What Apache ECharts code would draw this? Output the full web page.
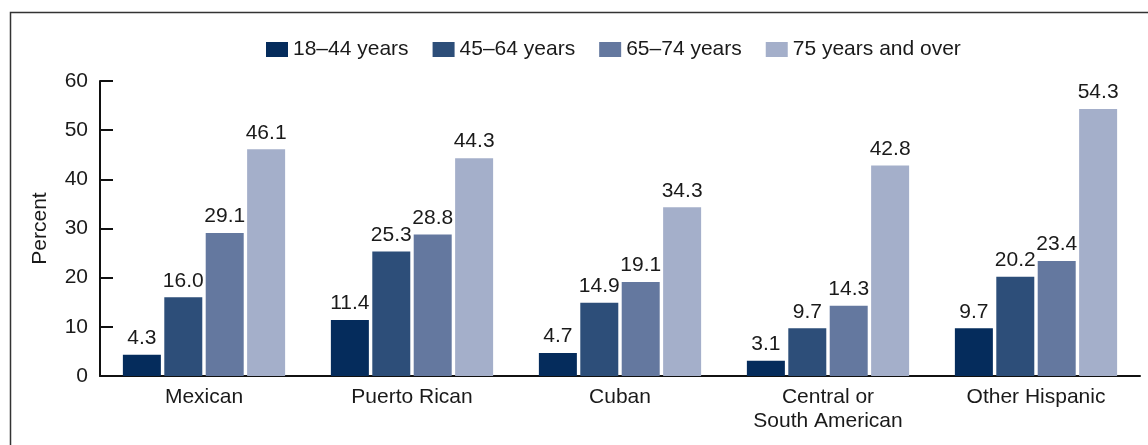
<!DOCTYPE html>
<html>
<head>
<meta charset="utf-8">
<script src="https://cdn.jsdelivr.net/npm/echarts@6/dist/echarts.min.js"></script>
<style>
html,body{margin:0;padding:0;background:#fff;}
#chart{width:1148px;height:445px;}
</style>
</head>
<body>
<div id="chart"></div>
<script>
const categories = ['Mexican', 'Puerto Rican', 'Cuban', 'Central or\nSouth American', 'Other Hispanic'];
const seriesNames = ['18–44 years', '45–64 years', '65–74 years', '75 years and over'];
const age18to44 = [4.3, 11.4, 4.7, 3.1, 9.7];
const age45to64 = [16.0, 25.3, 14.9, 9.7, 20.2];
const age65to74 = [29.1, 28.8, 19.1, 14.3, 23.4];
const age75plus = [46.1, 44.3, 34.3, 42.8, 54.3];
const yTicks = [0, 10, 20, 30, 40, 50, 60];

const colors = ['#052c5c', '#2d4e79', '#64789f', '#a4afca'];
const allValues = [age18to44, age45to64, age65to74, age75plus];
const FONT = '"Liberation Sans", Arial, sans-serif';
const FS = 21;

const chart = echarts.init(document.getElementById('chart'), null, {renderer: 'canvas'});
chart.setOption({
  animation: false,
  backgroundColor: '#fff',
  textStyle: {fontFamily: FONT},
  graphic: [{
    type: 'polyline',
    shape: {points: [[10.5, 460], [10.5, 12.5], [1160, 12.5]]},
    style: {stroke: '#333', lineWidth: 1.5, fill: null}
  }],
  legend: {
    top: 34,
    left: 261,
    itemWidth: 22,
    itemHeight: 15,
    itemGap: 24,
    icon: 'rect',
    textStyle: {fontSize: FS, color: '#1a1a1a', fontFamily: FONT},
    data: seriesNames
  },
  grid: {left: 100, right: 8, top: 81, bottom: 69, containLabel: false},
  xAxis: {
    type: 'category',
    data: categories,
    axisLine: {show: true, lineStyle: {color: '#111', width: 2}},
    axisTick: {show: false},
    axisLabel: {fontSize: FS, color: '#1a1a1a', fontFamily: FONT, margin: 9, lineHeight: 24, interval: 0}
  },
  yAxis: {
    type: 'value',
    min: yTicks[0],
    max: yTicks[yTicks.length - 1],
    interval: 10,
    name: 'Percent',
    nameLocation: 'middle',
    nameGap: 49,
    nameRotate: 90,
    nameTextStyle: {fontSize: FS, color: '#1a1a1a', fontFamily: FONT},
    splitLine: {show: false},
    axisLine: {show: true, lineStyle: {color: '#111', width: 2}},
    axisTick: {show: true, inside: true, length: 13, lineStyle: {color: '#111', width: 2}},
    axisLabel: {fontSize: FS, color: '#1a1a1a', fontFamily: FONT, margin: 12}
  },
  series: seriesNames.map((name, i) => ({
    name: name,
    type: 'bar',
    data: allValues[i],
    barGap: '9%',
    barCategoryGap: '22%',
    itemStyle: {color: colors[i]},
    label: {
      show: true,
      position: 'top',
      distance: 6,
      fontSize: FS,
      color: '#1a1a1a',
      fontFamily: FONT,
      formatter: p => p.value.toFixed(1)
    }
  }))
});
</script>
</body>
</html>
